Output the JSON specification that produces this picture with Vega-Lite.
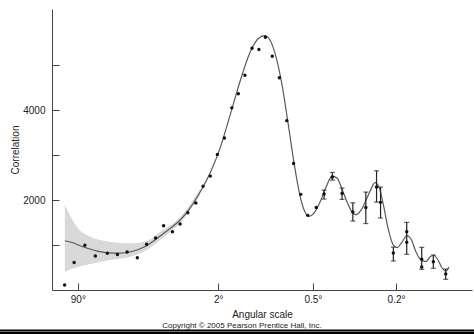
{
  "$schema": "https://vega.github.io/schema/vega-lite/v6.json",
  "width": 420,
  "height": 281,
  "autosize": {"type": "none"},
  "padding": {"left": 52, "top": 9, "right": 2, "bottom": 44},
  "background": "white",
  "config": {
    "view": {"stroke": null},
    "font": "Liberation Sans",
    "axis": {"grid": false, "labelFont": "Liberation Sans", "titleFont": "Liberation Sans", "labelFontSize": 10, "titleFontSize": 10, "titleFontWeight": "normal", "labelColor": "#222", "titleColor": "#222", "domainColor": "#444", "tickColor": "#444"}
  },
  "datasets": {
    "band": [
      {"l": 1.057, "hi": 1889, "lo": 407},
      {"l": 1.911, "hi": 1407, "lo": 504},
      {"l": 3.369, "hi": 1184, "lo": 578},
      {"l": 6.961, "hi": 1073, "lo": 667},
      {"l": 12.86, "hi": 1038, "lo": 740},
      {"l": 20.15, "hi": 1089, "lo": 889},
      {"l": 27.88, "hi": 1289, "lo": 1111},
      {"l": 43.44, "hi": 1622, "lo": 1489},
      {"l": 64.75, "hi": 2244, "lo": 2111}
    ],
    "curve": [
      {"l": 1.057, "v": 1096}, {"l": 1.531, "v": 1056}, {"l": 2.419, "v": 967}, {"l": 4.091, "v": 878},
      {"l": 6.51, "v": 827}, {"l": 9.573, "v": 822}, {"l": 13.61, "v": 856}, {"l": 18.8, "v": 956},
      {"l": 25.36, "v": 1133}, {"l": 33.49, "v": 1333}, {"l": 43.44, "v": 1556}, {"l": 53.3, "v": 1822},
      {"l": 64.75, "v": 2178}, {"l": 77.96, "v": 2600}, {"l": 93.09, "v": 3156}, {"l": 110.32, "v": 3889},
      {"l": 129.84, "v": 4644}, {"l": 151.84, "v": 5289}, {"l": 171.37, "v": 5589}, {"l": 188.57, "v": 5656},
      {"l": 204.11, "v": 5556}, {"l": 222.14, "v": 5178}, {"l": 241.33, "v": 4556}, {"l": 261.73, "v": 3711},
      {"l": 283.43, "v": 2822}, {"l": 306.43, "v": 2089}, {"l": 326.62, "v": 1733}, {"l": 343.5, "v": 1638},
      {"l": 365.53, "v": 1711}, {"l": 393.3, "v": 1956}, {"l": 422.64, "v": 2289}, {"l": 453.6, "v": 2533},
      {"l": 480.65, "v": 2489}, {"l": 508.9, "v": 2244}, {"l": 538.4, "v": 1956}, {"l": 569.2, "v": 1733},
      {"l": 594.7, "v": 1678}, {"l": 627.8, "v": 1778}, {"l": 662.3, "v": 2000}, {"l": 698.2, "v": 2244},
      {"l": 728.0, "v": 2389}, {"l": 758.7, "v": 2289}, {"l": 790.2, "v": 1933}, {"l": 831.2, "v": 1378},
      {"l": 873.7, "v": 1011}, {"l": 908.8, "v": 944}, {"l": 954.3, "v": 1067}, {"l": 1001.3, "v": 1211},
      {"l": 1040.3, "v": 1133}, {"l": 1090.5, "v": 844}, {"l": 1142.5, "v": 667}, {"l": 1196.4, "v": 633},
      {"l": 1240.9, "v": 733}, {"l": 1286.6, "v": 767}, {"l": 1333.6, "v": 667}, {"l": 1381.8, "v": 489},
      {"l": 1431.2, "v": 422}, {"l": 1469.2, "v": 511}
    ],
    "points": [
      {"l": 1.046, "v": 111}, {"l": 1.685, "v": 611}, {"l": 2.713, "v": 993}, {"l": 4.122, "v": 756},
      {"l": 6.336, "v": 816}, {"l": 8.806, "v": 789}, {"l": 11.8, "v": 844}, {"l": 15.7, "v": 718},
      {"l": 20.05, "v": 1018}, {"l": 25.05, "v": 1156}, {"l": 30.24, "v": 1427}, {"l": 36.84, "v": 1296},
      {"l": 43.44, "v": 1467}, {"l": 50.9, "v": 1718}, {"l": 59.62, "v": 1933}, {"l": 68.52, "v": 2307},
      {"l": 78.24, "v": 2533}, {"l": 88.81, "v": 3016}, {"l": 100.2, "v": 3382}, {"l": 113.5, "v": 4051},
      {"l": 126.2, "v": 4367}, {"l": 140.1, "v": 4778}, {"l": 156.5, "v": 5378}, {"l": 173.4, "v": 5349},
      {"l": 190.8, "v": 5622}, {"l": 210.6, "v": 5200}, {"l": 232.5, "v": 4722}, {"l": 257.2, "v": 3767},
      {"l": 281.6, "v": 2816}, {"l": 309.2, "v": 2127}, {"l": 337.9, "v": 1660}, {"l": 375.5, "v": 1833},
      {"l": 412.7, "v": 2133, "lo": 2022, "hi": 2222},
      {"l": 455.2, "v": 2511, "lo": 2444, "hi": 2615},
      {"l": 508.9, "v": 2149, "lo": 2015, "hi": 2267},
      {"l": 574.2, "v": 1733, "lo": 1533, "hi": 1940},
      {"l": 660.9, "v": 1833, "lo": 1478, "hi": 2178},
      {"l": 739.3, "v": 2293, "lo": 1955, "hi": 2651},
      {"l": 770.4, "v": 1949, "lo": 1600, "hi": 2289},
      {"l": 876.3, "v": 822, "lo": 644, "hi": 955},
      {"l": 998.5, "v": 1296, "lo": 793, "hi": 1504},
      {"l": 998.5, "v": 1060},
      {"l": 1150.0, "v": 682, "lo": 460, "hi": 949},
      {"l": 1150.0, "v": 511},
      {"l": 1278.6, "v": 629, "lo": 482, "hi": 778},
      {"l": 1427.5, "v": 356, "lo": 238, "hi": 467}
    ]
  },
  "layer": [
    {
      "data": {"name": "band"},
      "mark": {"type": "area", "color": "#d9d9d9", "interpolate": "monotone"},
      "encoding": {
        "x": {"field": "l", "type": "quantitative",
          "scale": {"type": "pow", "exponent": 0.25, "domain": [0.5, 1786], "zero": false, "nice": false},
          "axis": {"title": "Angular scale", "values": [2, 90, 360, 900],
            "labelExpr": "datum.value == 2 ? '90°' : datum.value == 90 ? '2°' : datum.value == 360 ? '0.5°' : '0.2°'",
            "tickSize": -7, "labelPadding": 11, "titlePadding": 5}},
        "y": {"field": "hi", "type": "quantitative",
          "scale": {"domain": [0, 6250], "nice": false, "zero": false},
          "axis": {"title": "Correlation", "values": [1000, 2000, 3000, 4000, 5000],
            "labelExpr": "datum.value == 2000 || datum.value == 4000 ? datum.value + '' : ''",
            "tickSize": -7, "labelPadding": 14, "titlePadding": 2}},
        "y2": {"field": "lo"}
      }
    },
    {
      "data": {"name": "curve"},
      "mark": {"type": "line", "color": "#5a5a5a", "strokeWidth": 1.2, "interpolate": "monotone"},
      "encoding": {
        "x": {"field": "l", "type": "quantitative", "title": "Angular scale"},
        "y": {"field": "v", "type": "quantitative", "title": "Correlation"}
      }
    },
    {
      "data": {"name": "points"},
      "transform": [{"filter": "isValid(datum.lo)"}],
      "mark": {"type": "errorbar", "color": "#222", "thickness": 1.2, "ticks": {"size": 5, "color": "#222", "thickness": 1.2}},
      "encoding": {
        "x": {"field": "l", "type": "quantitative", "title": "Angular scale"},
        "y": {"field": "lo", "type": "quantitative", "title": "Correlation"},
        "y2": {"field": "hi", "title": "Correlation"}
      }
    },
    {
      "data": {"name": "points"},
      "mark": {"type": "circle", "color": "#111", "size": 12, "opacity": 1},
      "encoding": {
        "x": {"field": "l", "type": "quantitative", "title": "Angular scale"},
        "y": {"field": "v", "type": "quantitative", "title": "Correlation"}
      }
    },
    {
      "mark": {"type": "point", "shape": "triangle-up", "filled": true, "color": "#222", "size": 30, "opacity": 1},
      "encoding": {"x": {"datum": 0.5, "type": "quantitative"}, "y": {"datum": 6250, "type": "quantitative"}}
    },
    {
      "mark": {"type": "point", "shape": "triangle-right", "filled": true, "color": "#222", "size": 30, "opacity": 1},
      "encoding": {"x": {"datum": 1786, "type": "quantitative"}, "y": {"datum": 0, "type": "quantitative"}}
    },
    {
      "data": {"values": [{"a": 0.0001, "b": 1900, "top": -880, "bottom": -1000}]},
      "mark": {"type": "rect", "color": "#000", "clip": false},
      "encoding": {"x": {"field": "a", "type": "quantitative"}, "x2": {"field": "b"}, "y": {"field": "top", "type": "quantitative"}, "y2": {"field": "bottom"}}
    },
    {
      "data": {"values": [{"a": 0.0001, "b": 1900, "mid": -922}]},
      "mark": {"type": "rule", "color": "#999", "strokeWidth": 0.8, "clip": false},
      "encoding": {"x": {"field": "a", "type": "quantitative"}, "x2": {"field": "b"}, "y": {"field": "mid", "type": "quantitative"}}
    },
    {
      "data": {"values": [{"text": "Copyright © 2005 Pearson Prentice Hall, Inc.", "px": 133.8, "py": -810}]},
      "mark": {"type": "text", "fontSize": 8, "font": "Liberation Sans", "color": "#222", "align": "center", "baseline": "middle", "clip": false},
      "encoding": {"x": {"field": "px", "type": "quantitative"}, "y": {"field": "py", "type": "quantitative"}, "text": {"field": "text"}}
    }
  ]
}
